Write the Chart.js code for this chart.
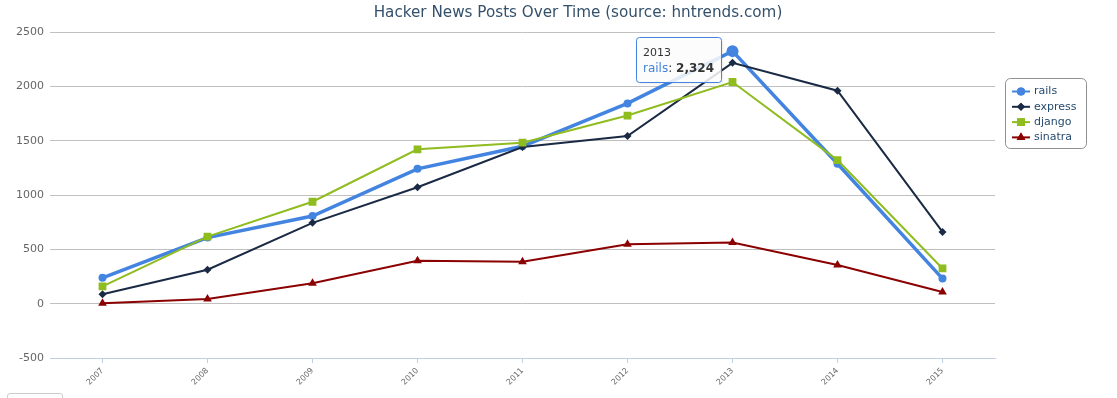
<!DOCTYPE html>
<html lang="en">
<head>
    <meta charset="UTF-8">
    <title>Hacker News Posts Over Time</title>
    <script src="https://cdn.jsdelivr.net/npm/chart.js"></script>
    <style>
        html, body {
            margin: 0;
            padding: 0;
            background: #ffffff;
            overflow: hidden;
        }
        .wrap {
            position: relative;
            width: 1117px;
            height: 398px;
        }
        /* little button peeking in at the bottom left */
        .corner-btn {
            position: absolute;
            left: 7px;
            top: 393px;
            width: 54px;
            height: 20px;
            border: 1px solid #cccccc;
            border-radius: 3px;
            background: #ffffff;
        }
    </style>
</head>
<body>
    <div class="wrap">
        <canvas id="hnChart" width="1117" height="398"></canvas>
        <div class="corner-btn"></div>
    </div>

    <script>
        // Data
        const years = ['2007', '2008', '2009', '2010', '2011', '2012', '2013', '2014', '2015'];
        const railsPosts = [238, 608, 806, 1241, 1448, 1843, 2324, 1287, 231];
        const expressPosts = [86, 312, 744, 1071, 1441, 1543, 2216, 1960, 660];
        const djangoPosts = [160, 617, 938, 1420, 1481, 1731, 2040, 1321, 324];
        const sinatraPosts = [3, 43, 188, 395, 386, 546, 562, 355, 108];
        const yTicks = [-500, 0, 500, 1000, 1500, 2000, 2500];

        const chartTitle = 'Hacker News Posts Over Time (source: hntrends.com)';
        const hoverIndex = 6; // tooltip shown on rails / 2013

        const colors = {
            rails: '#4284e0',
            express: '#1a2a44',
            django: '#8fbc1e',
            sinatra: '#8b0000'
        };
        const font = 'DejaVu Sans';

        const datasets = [
            {
                label: 'rails', data: railsPosts, borderColor: colors.rails, backgroundColor: colors.rails,
                borderWidth: 3.5, pointStyle: 'circle',
                pointRadius: ctx => ctx.dataIndex === hoverIndex ? 6 : 4,
                order: 4
            },
            {
                label: 'express', data: expressPosts, borderColor: colors.express, backgroundColor: colors.express,
                borderWidth: 2, pointStyle: 'rectRot', pointRadius: 4, order: 3
            },
            {
                label: 'django', data: djangoPosts, borderColor: colors.django, backgroundColor: colors.django,
                borderWidth: 2, pointStyle: 'rect', pointRadius: 5.5, order: 2
            },
            {
                label: 'sinatra', data: sinatraPosts, borderColor: colors.sinatra, backgroundColor: colors.sinatra,
                borderWidth: 2, pointStyle: 'triangle', pointRadius: 5, order: 1
            }
        ];
        datasets.forEach(d => {
            d.tension = 0;
            d.pointBorderWidth = 0;
            d.pointBorderColor = d.borderColor;
        });

        function roundRect(ctx, x, y, w, h, r) {
            ctx.beginPath();
            ctx.moveTo(x + r, y);
            ctx.lineTo(x + w - r, y);
            ctx.arcTo(x + w, y, x + w, y + r, r);
            ctx.lineTo(x + w, y + h - r);
            ctx.arcTo(x + w, y + h, x + w - r, y + h, r);
            ctx.lineTo(x + r, y + h);
            ctx.arcTo(x, y + h, x, y + h - r, r);
            ctx.lineTo(x, y + r);
            ctx.arcTo(x, y, x + r, y, r);
            ctx.closePath();
        }

        // title, boxed legend and the fixed hover tooltip
        const decorations = {
            id: 'decorations',
            afterDraw(chart) {
                const ctx = chart.ctx;
                const area = chart.chartArea;

                // title
                ctx.save();
                ctx.font = '15.2px "' + font + '"';
                ctx.fillStyle = '#34506b';
                ctx.textAlign = 'center';
                ctx.textBaseline = 'middle';
                ctx.fillText(chartTitle, 578, 13);
                ctx.restore();

                // legend
                const lx = area.right + 10, ly = 78, lw = 81, lh = 70;
                ctx.save();
                roundRect(ctx, lx + 0.5, ly + 0.5, lw, lh, 5);
                ctx.fillStyle = '#ffffff';
                ctx.fill();
                ctx.strokeStyle = '#909090';
                ctx.lineWidth = 1;
                ctx.stroke();
                chart.data.datasets.forEach((ds, i) => {
                    const y = ly + 13.5 + i * 15.3;
                    ctx.strokeStyle = ds.borderColor;
                    ctx.lineWidth = 2;
                    ctx.beginPath();
                    ctx.moveTo(lx + 7, y);
                    ctx.lineTo(lx + 25, y);
                    ctx.stroke();
                    ctx.fillStyle = ds.backgroundColor;
                    const r = i === 0 ? 4 : (typeof ds.pointRadius === 'number' ? ds.pointRadius : 4);
                    Chart.helpers.drawPoint(ctx, { pointStyle: ds.pointStyle, radius: r, borderWidth: 0 }, lx + 16, y);
                    ctx.fill();
                    ctx.font = '11px "' + font + '"';
                    ctx.fillStyle = '#274b6d';
                    ctx.textAlign = 'left';
                    ctx.textBaseline = 'middle';
                    ctx.fillText(ds.label, lx + 29, y);
                });
                ctx.restore();

                // tooltip on the hovered rails point
                const pt = chart.getDatasetMeta(0).data[hoverIndex];
                const label = datasets[0].label;
                const value = railsPosts[hoverIndex].toLocaleString('en-US');
                ctx.save();
                ctx.font = '12px "' + font + '"';
                const w1 = ctx.measureText(label + ': ').width;
                ctx.font = 'bold 12px "' + font + '"';
                const w2 = ctx.measureText(value).width;
                const bw = Math.round(w1 + w2 + 14);
                const bh = 45;
                const bx = Math.round(pt.x - 12 - bw);
                const by = Math.round(pt.y - 14);
                ctx.shadowColor = 'rgba(0,0,0,0.12)';
                ctx.shadowOffsetX = 1;
                ctx.shadowOffsetY = 1;
                ctx.shadowBlur = 3;
                roundRect(ctx, bx + 0.5, by + 0.5, bw, bh, 3);
                ctx.fillStyle = 'rgba(255,255,255,0.85)';
                ctx.fill();
                ctx.shadowColor = 'transparent';
                ctx.strokeStyle = colors.rails;
                ctx.lineWidth = 1;
                ctx.stroke();
                ctx.textAlign = 'left';
                ctx.textBaseline = 'middle';
                ctx.font = '11px "' + font + '"';
                ctx.fillStyle = '#333333';
                ctx.fillText(years[hoverIndex], bx + 7, by + 16);
                ctx.font = '12px "' + font + '"';
                ctx.fillStyle = colors.rails;
                ctx.fillText(label, bx + 7, by + 32);
                ctx.fillStyle = '#333333';
                ctx.fillText(':', bx + 7 + ctx.measureText(label).width, by + 32);
                ctx.font = 'bold 12px "' + font + '"';
                ctx.fillText(value, bx + 7 + w1, by + 32);
                ctx.restore();
            }
        };

        const config = {
            type: 'line',
            data: { labels: years, datasets: datasets },
            options: {
                responsive: false,
                animation: false,
                events: [],
                layout: { padding: { top: 32, right: 122, bottom: 0, left: 0 } },
                plugins: {
                    legend: { display: false },
                    title: { display: false },
                    tooltip: { enabled: false }
                },
                scales: {
                    x: {
                        offset: true,
                        grid: {
                            drawOnChartArea: false,
                            drawTicks: true,
                            tickLength: 5,
                            color: '#c0d0e0'
                        },
                        border: { color: '#c0d0e0', width: 1 },
                        ticks: {
                            font: { family: font, size: 8 },
                            color: '#666666',
                            minRotation: 45,
                            maxRotation: 45,
                            padding: 3
                        },
                        afterFit(scale) { scale.height = 40; }
                    },
                    y: {
                        min: yTicks[0],
                        max: yTicks[yTicks.length - 1],
                        afterBuildTicks(scale) { scale.ticks = yTicks.map(v => ({ value: v })); },
                        grid: { color: '#c0c0c0', drawTicks: false },
                        border: { display: false },
                        ticks: {
                            font: { family: font, size: 11 },
                            color: '#666666',
                            padding: 6,
                            callback: v => String(v)
                        },
                        afterFit(scale) { scale.width = 50; }
                    }
                }
            },
            plugins: [decorations]
        };

        new Chart(document.getElementById('hnChart'), config);
    </script>
</body>
</html>
